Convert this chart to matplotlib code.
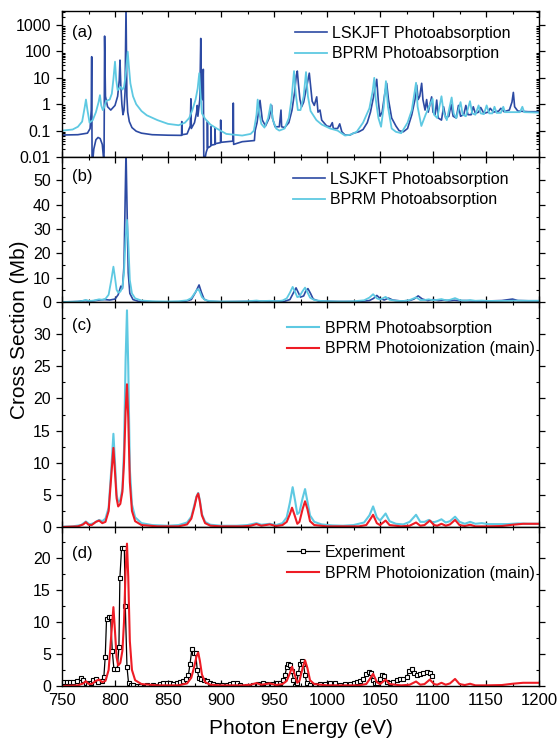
import matplotlib.pyplot as plt
from matplotlib.ticker import MultipleLocator, LogLocator, NullFormatter, FixedLocator
import numpy as np

plt.rcParams['font.family'] = ['Liberation Sans', 'DejaVu Sans']

# ---- datos: (energia eV, seccion eficaz Mb) ----

# panel (a): LSKJFT sin convolucionar
lskjft_raw = [
    (750, 0.068), (765, 0.07), (774, 0.08), (776.5, 0.12), (777.6, 0.6), (778.0, 63),
    (778.4, 0.004), (780, 0.02), (782, 0.045), (784, 0.055), (786, 0.05), (788, 0.03),
    (789.3, 0.008), (789.7, 0.015), (790.2, 380), (791, 2), (793, 0.8), (796, 0.6),
    (800, 0.9), (802.5, 2), (804, 8), (804.7, 47), (805.5, 5), (806.5, 1), (807.5, 0.4),
    (808.5, 0.6), (809.5, 3), (810.4, 5000), (811.2, 2), (812, 0.5), (813.5, 0.22),
    (816, 0.13), (820, 0.095), (825, 0.08), (835, 0.07), (850, 0.067), (862.8, 0.066),
    (863.0, 0.22), (863.3, 0.07), (868, 0.075), (871.0, 0.15), (871.6, 1.6), (872.0, 0.12),
    (875, 0.2), (877.0, 0.5), (877.6, 0.9), (878.2, 0.35), (880, 1.5), (880.9, 310),
    (881.6, 2), (882.6, 1.5), (883.3, 21), (883.8, 0.005), (886, 0.015), (887.0, 0.02),
    (887.2, 0.22), (887.5, 0.022), (890.4, 0.026), (890.6, 0.14), (890.9, 0.028),
    (894.2, 0.03), (894.4, 0.12), (894.7, 0.032), (899.5, 0.035), (899.7, 0.25),
    (900.0, 0.036), (911.4, 0.04), (911.6, 1.1), (911.9, 0.03), (920, 0.038),
    (931.5, 0.042), (932.2, 0.1), (934, 0.2), (936.8, 1.4), (939, 0.25), (942, 0.15),
    (945.5, 0.3), (947.8, 0.9), (948.5, 0.3), (951, 0.14), (955, 0.14), (956.6, 0.6),
    (957.2, 0.14), (960, 0.13), (964, 0.2), (967, 0.6), (969.5, 3), (971, 12), (972, 18),
    (973, 6), (974.5, 1.5), (976.1, 0.8), (978, 1.2), (980.5, 4), (982.3, 10), (983.3, 15),
    (984.5, 5), (986, 1.3), (988, 0.9), (990.3, 1.9), (991.5, 0.5), (993.4, 0.6),
    (995, 0.25), (999.7, 0.15), (1003, 0.14), (1005, 0.2), (1006, 0.12), (1010, 0.12),
    (1012, 0.18), (1014, 0.09), (1017, 0.068), (1021.7, 0.068), (1025, 0.08), (1030, 0.09),
    (1034, 0.11), (1038, 0.2), (1041, 0.5), (1044, 2), (1046.9, 8.8), (1048.5, 1.2),
    (1050, 0.35), (1052, 0.5), (1054.5, 2.5), (1056.3, 6.2), (1058, 1.5), (1061, 0.3),
    (1065, 0.15), (1068, 0.1), (1072, 0.09), (1076, 0.12), (1080, 0.4), (1083, 1.5),
    (1084.6, 5.3), (1086, 1.5), (1087.5, 2), (1089.3, 6.2), (1090.5, 1.5), (1092.5, 0.6),
    (1094, 1.5), (1095.5, 0.5), (1098.7, 1.9), (1100, 0.5), (1102, 0.4), (1103.5, 1.44),
    (1105, 0.3), (1108, 0.25), (1110, 0.8), (1112, 0.3), (1115, 0.35), (1117, 1.0),
    (1119, 0.35), (1122, 0.3), (1124, 0.9), (1126, 0.35), (1129, 0.4), (1131, 0.9),
    (1133, 0.4), (1136, 0.4), (1138, 0.8), (1140, 0.45), (1143, 0.5), (1145, 0.75),
    (1148, 0.45), (1152, 0.5), (1154, 0.7), (1157, 0.5), (1162, 0.55), (1164, 0.7),
    (1167, 0.52), (1172, 0.6), (1174.5, 1.2), (1175.8, 2.8), (1177, 0.8), (1180, 0.55),
    (1190, 0.52), (1200, 0.52),
]

# panel (a): BPRM sin convolucionar
bprm_raw = [
    (750, 0.1), (760, 0.11), (765, 0.14), (769, 0.22), (771.5, 0.8), (772.6, 1.5),
    (774, 0.6), (776, 0.2), (779, 0.25), (782, 0.5), (784.5, 1.2), (785.8, 2.2),
    (787, 0.9), (788.5, 0.6), (790, 0.8), (791.5, 1.3), (793, 1.4), (795, 1.5),
    (797, 2.5), (798.5, 9), (800, 41), (801.2, 8), (802.5, 3.4), (804, 4), (805.5, 4.5),
    (807, 3.6), (808.5, 4.5), (810, 12), (811.2, 40), (812, 98), (813, 30), (814.5, 6.2),
    (817, 2), (820, 1.0), (825, 0.55), (830, 0.38), (840, 0.25), (850, 0.18), (860, 0.16),
    (866, 0.2), (870, 0.3), (873, 0.6), (876, 1.5), (878, 4), (879.5, 15), (880.5, 3),
    (882, 0.45), (885, 0.28), (890, 0.17), (896, 0.12), (905, 0.075), (920, 0.065),
    (928, 0.075), (931, 0.1), (933.5, 0.4), (934.6, 1.5), (936, 0.5), (938, 0.18),
    (941, 0.13), (944.5, 0.3), (946.9, 1.0), (949, 0.25), (952, 0.12), (955, 0.1),
    (960, 0.12), (964, 0.3), (966.5, 1.5), (968.9, 18), (970.5, 2.5), (972.5, 0.6),
    (975, 0.6), (978, 2), (980.2, 16.5), (982, 2), (984.5, 0.55), (990, 0.25),
    (995, 0.17), (1003, 0.12), (1010, 0.1), (1017, 0.065), (1022, 0.07), (1028, 0.09),
    (1034, 0.2), (1040, 0.7), (1043, 3), (1044.6, 10), (1046, 1.5), (1048.5, 0.3),
    (1051, 0.14), (1053.5, 0.8), (1055.6, 7.5), (1057.5, 0.8), (1061, 0.12), (1065, 0.09),
    (1070, 0.08), (1076, 0.2), (1080, 0.6), (1084, 6.5), (1085.5, 0.8), (1089, 0.15),
    (1093, 0.4), (1099.6, 1.6), (1101, 0.4), (1104, 0.3), (1108, 2.0), (1110, 0.5),
    (1113, 0.25), (1117.6, 1.8), (1119.5, 0.45), (1122, 0.3), (1126, 1.2), (1128, 0.4),
    (1131, 0.35), (1134.9, 1.3), (1137, 0.45), (1140, 0.4), (1143, 0.9), (1145, 0.45),
    (1148, 0.42), (1150.6, 0.9), (1153, 0.45), (1156, 0.45), (1158, 0.8), (1160, 0.47),
    (1164, 0.47), (1166.3, 0.8), (1168, 0.5), (1175, 0.5), (1182, 0.5), (1184.3, 0.8),
    (1186, 0.5), (1200, 0.48),
]

# panel (b): LSJKFT convolucionado
lsjkft_conv = [
    (750, 0.0), (765, 0.2), (772, 0.6), (776, 0.3), (780, 0.5), (785, 0.8), (790, 1.0),
    (795, 0.8), (800, 1.2), (803, 3), (805.5, 6.5), (807, 5.5), (808.5, 15), (809.5, 40),
    (810.4, 62), (811.3, 40), (812.5, 12), (814, 3.5), (817, 1.0), (822, 0.3), (840, 0.05),
    (865, 0.1), (872, 1.0), (876, 4), (879.3, 7.0), (881.5, 4), (884, 1.2), (888, 0.3),
    (900, 0.1), (935, 0.3), (945, 0.3), (960, 0.3), (965, 1.0), (968, 3.5), (970.8, 5.8),
    (973, 3.8), (975, 2.0), (978, 2.5), (980, 4.5), (982, 5.5), (984.5, 3.5), (987, 1.2),
    (992, 0.4), (1000, 0.3), (1010, 0.2), (1030, 0.2), (1040, 0.6), (1044, 1.5),
    (1047, 2.7), (1050, 1.5), (1054, 0.8), (1058, 1.6), (1062, 0.8), (1070, 0.4),
    (1078, 0.6), (1082, 1.2), (1086, 2.5), (1090, 1.2), (1095, 0.6), (1100, 1.0),
    (1105, 0.6), (1110, 0.8), (1115, 0.5), (1120, 0.7), (1125, 0.5), (1130, 0.6),
    (1140, 0.4), (1150, 0.4), (1165, 0.6), (1175, 1.2), (1180, 0.6), (1190, 0.5),
    (1200, 0.5),
]

# paneles (b) y (c): BPRM fotoabsorcion convolucionado
bprm_abs = [
    (750, 0.05), (760, 0.1), (768, 0.3), (772.5, 0.85), (776, 0.4), (780, 0.6),
    (785, 1.1), (788, 0.9), (791, 1.3), (794, 3.0), (796.5, 9), (798.5, 14.5), (800, 10),
    (801.5, 5), (803, 3.9), (805, 4.2), (807, 6), (808.5, 12), (810, 26), (811.3, 33.7),
    (812.5, 25), (814, 9), (816, 3.5), (819, 1.5), (825, 0.6), (835, 0.3), (850, 0.2),
    (860, 0.3), (868, 0.7), (872, 1.6), (875, 3.5), (877, 4.8), (878.5, 5.3), (880, 4.2),
    (882, 2), (885, 0.8), (890, 0.35), (900, 0.2), (915, 0.2), (925, 0.3), (933.5, 0.6),
    (938, 0.35), (946, 0.5), (952, 0.3), (958, 0.6), (962, 1.5), (965, 3.8), (967.6, 6.2),
    (970, 4), (972, 2), (974, 2.3), (977, 4.5), (979.3, 5.9), (981.5, 4), (984, 1.8),
    (988, 0.8), (995, 0.4), (1005, 0.25), (1015, 0.2), (1025, 0.3), (1035, 0.7),
    (1040, 1.8), (1043.5, 3.2), (1047, 1.5), (1050, 1.0), (1055.3, 2.1), (1059, 0.9),
    (1065, 0.5), (1072, 0.4), (1078, 0.8), (1084, 1.9), (1088, 0.8), (1092, 0.8),
    (1096, 1.1), (1100, 0.7), (1104, 0.9), (1108, 1.2), (1112, 0.7), (1116, 0.9),
    (1120.8, 1.6), (1125, 0.8), (1130, 0.5), (1135, 0.8), (1140, 0.5), (1146, 0.6),
    (1152, 0.45), (1160, 0.45), (1170, 0.45), (1180, 0.55), (1190, 0.5), (1200, 0.5),
]

# paneles (c) y (d): BPRM fotoionizacion (main)
bprm_ion = [
    (750, 0.0), (765, 0.1), (770, 0.4), (772.5, 0.75), (775, 0.35), (778, 0.3), (782, 0.8),
    (785, 1.0), (788, 0.6), (791, 0.8), (794, 2.5), (796.5, 8), (798.5, 12.3), (800, 8.5),
    (801.5, 4.5), (803, 3.2), (805, 3.6), (807, 5.5), (808.5, 10), (810, 18), (811.3, 22.2),
    (812.5, 17), (814, 7), (816, 2.5), (819, 0.9), (825, 0.3), (840, 0.1), (860, 0.1),
    (868, 0.4), (872, 1.3), (875, 3.2), (877, 4.7), (878.5, 5.2), (880, 4.0), (882, 1.8),
    (885, 0.6), (890, 0.2), (900, 0.1), (920, 0.1), (928, 0.2), (933.5, 0.45), (938, 0.2),
    (946, 0.4), (952, 0.15), (958, 0.3), (962, 0.8), (965, 2.0), (967, 3.0), (969.5, 1.8),
    (972, 0.5), (974, 0.8), (977, 2.8), (979.3, 4.0), (981.5, 2.8), (984, 0.9), (988, 0.3),
    (1000, 0.1), (1030, 0.1), (1037, 0.3), (1040, 1.0), (1043.5, 1.9), (1047, 0.6),
    (1050, 0.3), (1055.3, 1.0), (1059, 0.3), (1070, 0.1), (1078, 0.2), (1084, 0.7),
    (1088, 0.2), (1092, 0.3), (1097, 1.0), (1101, 0.3), (1104, 0.2), (1108, 0.5),
    (1112, 0.2), (1116, 0.4), (1120.8, 1.1), (1125, 0.3), (1130, 0.15), (1135, 0.35),
    (1140, 0.1), (1150, 0.1), (1165, 0.15), (1175, 0.35), (1185, 0.5), (1200, 0.5),
]

# panel (d): experimento
experimento = [
    (751.2, 0.68), (754.3, 0.68), (757.5, 0.57), (760.6, 0.68), (763.8, 0.83),
    (767.9, 1.2), (770.1, 0.94), (772.6, 0.42), (774.8, 0.1), (777, 0.42), (779.5, 0.94),
    (781.7, 1.1), (784.2, 0.68), (787.3, 0.83), (789.5, 1.46), (790.8, 4.6), (792, 10.4),
    (794.2, 10.7), (795.8, 10.8), (797.4, 5.5), (799, 2.6), (802.1, 2.6), (803.7, 6.1),
    (804.6, 16.8), (806.2, 21.5), (808.8, 21.5), (809.7, 12.5), (811.3, 3.0), (812.8, 0.42),
    (814.7, 0.2), (817.3, 0.1), (820.4, 0.05), (823.6, 0.05), (829.9, 0.1), (836.2, 0.16),
    (842.5, 0.3), (845.6, 0.42), (848.7, 0.42), (851.9, 0.42), (855, 0.36), (858.2, 0.42),
    (861.3, 0.57), (864.5, 0.73), (867, 1.04), (869.2, 1.67), (870.8, 3.5), (872.6, 5.8),
    (874.5, 5.1), (876.1, 5.1), (877.6, 2.5), (879.2, 1.2), (881.1, 1.15), (883.9, 0.94),
    (886.5, 0.73), (889.6, 0.52), (892.7, 0.36), (895.9, 0.2), (900.6, 0.1), (905.3, 0.1),
    (908.5, 0.26), (911.6, 0.47), (914.8, 0.42), (917.9, 0.16), (924.2, 0.05),
    (930.5, 0.16), (935.2, 0.26), (939.9, 0.42), (943.1, 0.3), (947.8, 0.26),
    (952.5, 0.42), (955.6, 0.52), (958.2, 0.94), (960.4, 1.7), (962, 3.0), (963.5, 3.5),
    (965.1, 3.3), (966.7, 2.4), (968.3, 0.94), (969.9, 0.05), (971.4, 0.52), (973, 2.0),
    (974.6, 3.5), (976.2, 3.85), (977.8, 3.4), (979.3, 1.7), (980.9, 0.42), (984.1, 0.2),
    (988.8, 0.2), (993.5, 0.3), (998.2, 0.26), (1002.9, 0.42), (1007.7, 0.42),
    (1012.4, 0.2), (1017.1, 0.26), (1021.8, 0.36), (1025, 0.52), (1028.1, 0.63),
    (1031.3, 0.73), (1034.4, 1.04), (1037, 1.9), (1039.2, 2.2), (1041.3, 2.0),
    (1043.2, 0.94), (1045.4, 0.42), (1047.6, 0.52), (1050.1, 1.04), (1052, 1.67),
    (1053.9, 1.56), (1056.4, 0.68), (1059.5, 0.52), (1062.6, 0.68), (1065.8, 0.94),
    (1068.9, 1.04), (1072.1, 1.04), (1075.2, 1.46), (1077.7, 2.4), (1079.9, 2.6),
    (1082.1, 2.1), (1084.6, 1.67), (1087.7, 1.9), (1090.9, 2.1), (1094, 2.24),
    (1097.2, 2.0), (1099.4, 1.6),
]

x_ticks = [750, 800, 850, 900, 950, 1000, 1050, 1100, 1150, 1200]
log_ticks = [0.01, 0.1, 1, 10, 100, 1000]
log_labels = ['0.01', '0.1', '1', '10', '100', '1000']
ticks_b = [0, 10, 20, 30, 40, 50]
ticks_c = [0, 5, 10, 15, 20, 25, 30]
ticks_d = [0, 5, 10, 15, 20]

c_azul = '#2c4aa3'
c_cian = '#5ec9e2'
c_rojo = '#ee1c25'


def xy(serie):
    a = np.array(serie, dtype=float)
    return a[:, 0], a[:, 1]


def estilo(ax, mayores, menor):
    ax.set_xlim(750, 1200)
    ax.xaxis.set_major_locator(FixedLocator(x_ticks))
    ax.xaxis.set_minor_locator(MultipleLocator(25))
    ax.tick_params(axis='x', which='both', direction='in', top=True, bottom=True,
                   labelbottom=False)
    ax.tick_params(axis='y', which='both', direction='in', right=True, left=True,
                   labelsize=11.5)
    ax.tick_params(axis='y', which='major', left=True, direction='out')
    ax.tick_params(which='major', length=4.5, width=0.9)
    ax.tick_params(which='minor', length=2.5, width=0.8)
    if mayores is not None:
        ax.yaxis.set_major_locator(FixedLocator(mayores))
        ax.yaxis.set_minor_locator(MultipleLocator(menor))
    for s in ax.spines.values():
        s.set_linewidth(1.0)


fig = plt.figure(figsize=(5.57, 7.38), dpi=100)
L, W = 62 / 557, 477 / 557
ax_a = fig.add_axes([L, 1 - 157 / 738, W, 146 / 738])
ax_b = fig.add_axes([L, 1 - 302 / 738, W, 145 / 738])
ax_c = fig.add_axes([L, 1 - 527 / 738, W, 225 / 738])
ax_d = fig.add_axes([L, 1 - 686 / 738, W, 159 / 738])

ley = dict(frameon=False, fontsize=11.5, handlelength=2.0, handletextpad=0.35,
           labelspacing=0.35, borderpad=0, borderaxespad=0, loc='upper left')

# (a)
x, y = xy(lskjft_raw)
ax_a.plot(x, y, color=c_azul, lw=1.2, label='LSKJFT Photoabsorption')
x, y = xy(bprm_raw)
ax_a.plot(x, y, color=c_cian, lw=1.3, label='BPRM Photoabsorption')
ax_a.set_yscale('log')
ax_a.set_ylim(0.01, 3400)
estilo(ax_a, None, None)
ax_a.yaxis.set_major_locator(FixedLocator(log_ticks))
ax_a.yaxis.set_minor_locator(LogLocator(base=10, subs=np.arange(2, 10), numticks=10))
ax_a.yaxis.set_minor_formatter(NullFormatter())
ax_a.set_yticklabels(log_labels)
ax_a.legend(bbox_to_anchor=(0.488, 0.898), **ley)
ax_a.text(0.021, 0.856, '(a)', transform=ax_a.transAxes, fontsize=12, va='center')

# (b)
x, y = xy(lsjkft_conv)
ax_b.plot(x, y, color=c_azul, lw=1.2, label='LSJKFT Photoabsorption')
x, y = xy(bprm_abs)
ax_b.plot(x, y, color=c_cian, lw=1.3, label='BPRM Photoabsorption')
ax_b.set_ylim(0, 59.5)
estilo(ax_b, ticks_b, 5)
ax_b.legend(bbox_to_anchor=(0.484, 0.898), **ley)
ax_b.text(0.021, 0.864, '(b)', transform=ax_b.transAxes, fontsize=12, va='center')

# (c)
x, y = xy(bprm_abs)
ax_c.plot(x, y, color=c_cian, lw=1.5, label='BPRM Photoabsorption')
x, y = xy(bprm_ion)
ax_c.plot(x, y, color=c_rojo, lw=1.5, label='BPRM Photoionization (main)')
ax_c.set_ylim(0, 35)
estilo(ax_c, ticks_c, 2.5)
ax_c.legend(bbox_to_anchor=(0.472, 0.916), **ley)
ax_c.text(0.021, 0.895, '(c)', transform=ax_c.transAxes, fontsize=12, va='center')

# (d)
x, y = xy(experimento)
ax_d.plot(x, y, color='black', lw=0.9, marker='s', ms=3.4, mfc='white', mec='black',
          mew=0.8, label='Experiment')
x, y = xy(bprm_ion)
ax_d.plot(x, y, color=c_rojo, lw=1.5, label='BPRM Photoionization (main)')
ax_d.set_ylim(0, 24.8)
estilo(ax_d, ticks_d, 2.5)
ax_d.tick_params(axis='x', labelbottom=True, labelsize=12, pad=5)
ax_d.legend(bbox_to_anchor=(0.472, 0.887), **ley)
ax_d.text(0.021, 0.836, '(d)', transform=ax_d.transAxes, fontsize=12, va='center')

fig.text(0.54, 1 - 734 / 738, 'Photon Energy (eV)', ha='center', va='baseline',
         fontsize=15)
fig.text(0.035, 1 - 330 / 738, 'Cross Section (Mb)', ha='center', va='center',
         rotation=90, fontsize=15)

fig.savefig('out.png', dpi=100)
